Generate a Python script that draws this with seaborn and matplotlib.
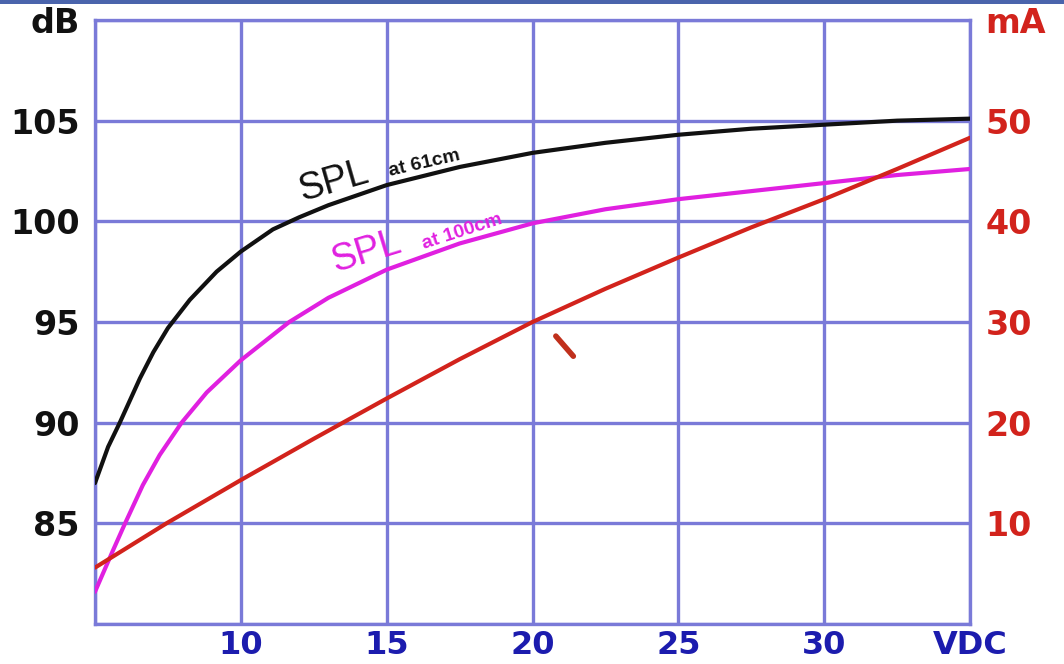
import numpy as np
import pandas as pd
import seaborn as sns
import matplotlib.pyplot as plt
from matplotlib.patches import Rectangle

# readings
volts_61 = [5, 5.45, 5.85, 6.54, 7.0, 7.5, 8.25, 9.17, 10, 11.1, 12, 13, 15, 17.5, 20, 22.5, 25, 27.5, 30, 32.5, 35]
spl_61cm = [87.0, 88.8, 90.0, 92.2, 93.5, 94.7, 96.1, 97.5, 98.5, 99.6, 100.2, 100.8, 101.8, 102.7, 103.4, 103.9, 104.3, 104.6, 104.8, 105.0, 105.1]

volts_100 = [5, 5.6, 6.0, 6.64, 7.22, 7.97, 8.83, 10, 11.66, 13, 15, 17.5, 20, 22.5, 25, 27.5, 30, 32.5, 35]
spl_100cm = [81.6, 83.6, 84.9, 86.9, 88.4, 90.0, 91.5, 93.1, 95.0, 96.2, 97.6, 98.9, 99.9, 100.6, 101.1, 101.5, 101.9, 102.3, 102.6]

volts_ma = [5, 7.45, 10, 12.5, 15, 17.5, 20, 22.5, 25, 27.5, 30, 32.5, 35]
current_ma = [5.6, 10.0, 14.3, 18.4, 22.4, 26.3, 30.0, 33.3, 36.4, 39.4, 42.2, 45.2, 48.3]

# short red pointer stroke below the current line
pointer_v = [20.8, 21.4]
pointer_ma = [28.6, 26.6]

x_ticks = [5, 10, 15, 20, 25, 30, 35]
x_labels = ["", "10", "15", "20", "25", "30", "VDC"]
db_ticks = [80, 85, 90, 95, 100, 105, 110]
db_labels = ["", "85", "90", "95", "100", "105", "dB"]
ma_ticks = [0, 10, 20, 30, 40, 50, 60]
ma_labels = ["", "10", "20", "30", "40", "50", "mA"]

grid_col = "#7a7ad8"
red = "#d2231c"
magenta = "#e020e0"
blue_txt = "#1c1cae"

sns.set_style("white")
plt.rcParams["font.family"] = ["DejaVu Sans"]

fig = plt.figure(figsize=(10.64, 6.64), dpi=100)
ax = fig.add_axes([95 / 1064, 40 / 664, 875 / 1064, 604 / 664])

sns.lineplot(x=volts_61, y=spl_61cm, ax=ax, color="#111111", lw=3, sort=False, zorder=3)
sns.lineplot(x=volts_100, y=spl_100cm, ax=ax, color=magenta, lw=3, sort=False, zorder=3)

ax.set_xlim(5, 35)
ax.set_ylim(80, 110)
ax.set_xticks(x_ticks)
ax.set_xticklabels(x_labels)
ax.set_yticks(db_ticks)
ax.set_yticklabels(db_labels)
ax.grid(True, color=grid_col, lw=2.4)
ax.set_axisbelow(True)
for s in ax.spines.values():
    s.set_color(grid_col)
    s.set_linewidth(2.4)
ax.tick_params(length=0)
ax.tick_params(axis="y", pad=11)
ax.tick_params(axis="x", pad=4)
for lab in ax.get_yticklabels():
    lab.set_fontsize(24)
    lab.set_fontweight("bold")
    lab.set_color("#111111")
for lab in ax.get_xticklabels():
    lab.set_fontsize(23)
    lab.set_fontweight("bold")
    lab.set_color(blue_txt)

ax2 = ax.twinx()
sns.lineplot(x=volts_ma, y=current_ma, ax=ax2, color=red, lw=3, sort=False, zorder=3)
sns.lineplot(x=pointer_v, y=pointer_ma, ax=ax2, color="#c0301c", lw=4, sort=False)
ax2.set_ylim(0, 60)
ax2.set_yticks(ma_ticks)
ax2.set_yticklabels(ma_labels)
ax2.tick_params(length=0, pad=11)
for s in ax2.spines.values():
    s.set_visible(False)
for lab in ax2.get_yticklabels():
    lab.set_fontsize(24)
    lab.set_fontweight("bold")
    lab.set_color(red)

# curve labels
lbl_font = ["Liberation Sans", "DejaVu Sans"]
ax.text(13.2, 101.95, "SPL", fontsize=27, family=lbl_font, color="#111111",
        rotation=16, ha="center", va="center", zorder=4)
ax.text(16.3, 102.9, "at 61cm", fontsize=14, family=lbl_font, fontweight="bold",
        color="#111111", rotation=13, ha="center", va="center", zorder=4)
ax.text(14.3, 98.47, "SPL", fontsize=27, family=lbl_font, color=magenta,
        rotation=17, ha="center", va="center", zorder=4)
ax.text(17.6, 99.5, "at 100cm", fontsize=14, family=lbl_font, fontweight="bold",
        color=magenta, rotation=18, ha="center", va="center", zorder=4)

# thin blue strip along the top edge
fig.add_artist(Rectangle((0, 1 - 4 / 664), 1, 4 / 664, transform=fig.transFigure,
                         color="#4a64ac", lw=0))

fig.savefig("out.png", dpi=100)
